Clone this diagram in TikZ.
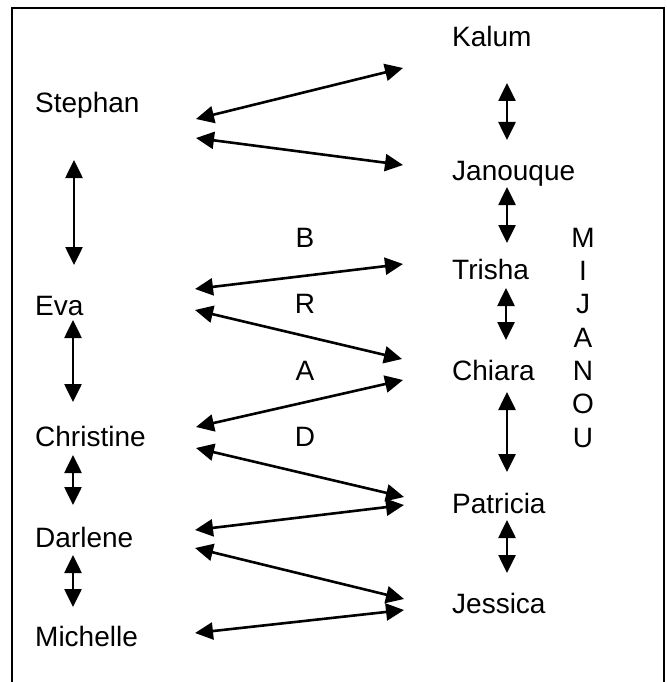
\documentclass[tikz,border=0pt]{standalone}
\usepackage{fontspec}
\setmainfont{Liberation Sans}
\usetikzlibrary{arrows.meta}
\tikzset{
  person/.style={anchor=base west, inner sep=0pt, font=\fontsize{28}{28}\selectfont},
  ltr/.style={anchor=base, inner sep=0pt, font=\fontsize{28}{28}\selectfont},
  linkarrow/.style={line width=2.6pt, {Triangle[length=18pt,width=17pt]}-{Triangle[length=18pt,width=17pt]}},
  outline/.style={line width=2pt}
}
\begin{document}
\begin{tikzpicture}[x=1pt,y=-1pt]
\useasboundingbox (0,0) rectangle (666,682);
% outer frame (runs off the bottom of the page)
\draw[outline] (12,690) -- (12,8.5) -- (664,8.5) -- (664,690);

% left column
\node[person] (stephan)   at (35,113) {Stephan};
\node[person] (eva)       at (35,315) {Eva};
\node[person] (christine) at (35,446) {Christine};
\node[person] (darlene)   at (35,547) {Darlene};
\node[person] (michelle)  at (35,646) {Michelle};

% right column
\node[person] (kalum)    at (452,47)  {Kalum};
\node[person] (janouque) at (452,180) {Janouque};
\node[person] (trisha)   at (452,279) {Trisha};
\node[person] (chiara)   at (452,380) {Chiara};
\node[person] (patricia) at (452,513) {Patricia};
\node[person] (jessica)  at (452,613) {Jessica};

% middle letters
\node[ltr] (b) at (305,247) {B};
\node[ltr] (r) at (305,313) {R};
\node[ltr] (a) at (305,380) {A};
\node[ltr] (d) at (305,446) {D};

% vertical word
\foreach \ch/\yy/\nm in {M/247/m1,I/280/m2,J/313/m3,A/347/m4,N/380/m5,O/413/m6,U/447/m7}
  \node[ltr] (\nm) at (583,\yy) {\ch};

% arrow end points, left side
\coordinate (s1) at (196,119);
\coordinate (s2) at (196,138);
\coordinate (e1) at (195,289);
\coordinate (e2) at (195,310);
\coordinate (c1) at (196,427);
\coordinate (c2) at (196,448);
\coordinate (d1) at (195,530);
\coordinate (d2) at (195,548);
\coordinate (mi) at (195,633);
% arrow end points, right side
\coordinate (k1) at (403,68);
\coordinate (j1) at (403,165);
\coordinate (t1) at (403,264);
\coordinate (h1) at (402,359);
\coordinate (h2) at (403,380);
\coordinate (p1) at (404,497);
\coordinate (p2) at (404,505);
\coordinate (q1) at (404,599);
\coordinate (q2) at (404,610);

% crossing links
\draw[linkarrow] (s1) -- (k1);
\draw[linkarrow] (s2) -- (j1);
\draw[linkarrow] (e1) -- (t1);
\draw[linkarrow] (e2) -- (h1);
\draw[linkarrow] (c1) -- (h2);
\draw[linkarrow] (c2) -- (p1);
\draw[linkarrow] (d1) -- (p2);
\draw[linkarrow] (d2) -- (q1);
\draw[linkarrow] (mi) -- (q2);

% vertical links, left column
\coordinate (l1a) at (74,160); \coordinate (l1b) at (74,265);
\coordinate (l2a) at (73,320); \coordinate (l2b) at (73,402);
\coordinate (l3a) at (73,455); \coordinate (l3b) at (73,505);
\coordinate (l4a) at (73,555); \coordinate (l4b) at (73,607);
\draw[linkarrow] (l1a) -- (l1b);
\draw[linkarrow] (l2a) -- (l2b);
\draw[linkarrow] (l3a) -- (l3b);
\draw[linkarrow] (l4a) -- (l4b);

% vertical links, right column
\coordinate (r1a) at (507,83);  \coordinate (r1b) at (507,140);
\coordinate (r2a) at (507,187); \coordinate (r2b) at (507,243);
\coordinate (r3a) at (506,288); \coordinate (r3b) at (506,340);
\coordinate (r4a) at (507,392); \coordinate (r4b) at (507,472);
\coordinate (r5a) at (507,520); \coordinate (r5b) at (507,573);
\draw[linkarrow] (r1a) -- (r1b);
\draw[linkarrow] (r2a) -- (r2b);
\draw[linkarrow] (r3a) -- (r3b);
\draw[linkarrow] (r4a) -- (r4b);
\draw[linkarrow] (r5a) -- (r5b);
\end{tikzpicture}
\end{document}
